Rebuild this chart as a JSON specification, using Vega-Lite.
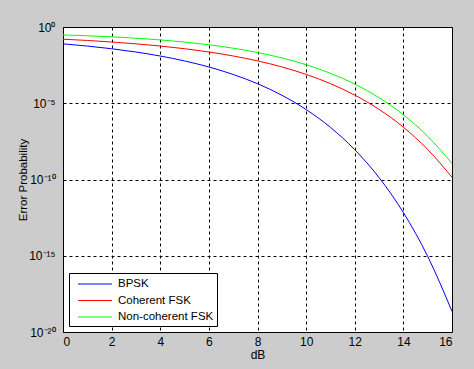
{
  "$schema": "https://vega.github.io/schema/vega-lite/v6.json",
  "autosize": "none",
  "width": 389,
  "height": 305,
  "padding": {"left": 63, "top": 27, "right": 22, "bottom": 37},
  "background": "#cccccc",
  "config": {
    "view": {"fill": "white", "stroke": "black", "strokeWidth": 1},
    "font": "Liberation Sans"
  },
  "data": {
    "values": [
      {"dB": 0, "s": "BPSK", "p": 0.07865},
      {"dB": 1, "s": "BPSK", "p": 0.05628},
      {"dB": 2, "s": "BPSK", "p": 0.03751},
      {"dB": 3, "s": "BPSK", "p": 0.02288},
      {"dB": 4, "s": "BPSK", "p": 0.0125},
      {"dB": 5, "s": "BPSK", "p": 0.005954},
      {"dB": 6, "s": "BPSK", "p": 0.002388},
      {"dB": 7, "s": "BPSK", "p": 0.0007727},
      {"dB": 8, "s": "BPSK", "p": 0.0001909},
      {"dB": 9, "s": "BPSK", "p": 3.363e-5},
      {"dB": 10, "s": "BPSK", "p": 3.872e-6},
      {"dB": 11, "s": "BPSK", "p": 2.613e-7},
      {"dB": 12, "s": "BPSK", "p": 9.006e-9},
      {"dB": 13, "s": "BPSK", "p": 1.333e-10},
      {"dB": 14, "s": "BPSK", "p": 6.81e-13},
      {"dB": 15, "s": "BPSK", "p": 9.124e-16},
      {"dB": 16, "s": "BPSK", "p": 2.26e-19},
      {"dB": 0, "s": "Coherent FSK", "p": 0.1587},
      {"dB": 1, "s": "Coherent FSK", "p": 0.1309},
      {"dB": 2, "s": "Coherent FSK", "p": 0.104},
      {"dB": 3, "s": "Coherent FSK", "p": 0.0789},
      {"dB": 4, "s": "Coherent FSK", "p": 0.05649},
      {"dB": 5, "s": "Coherent FSK", "p": 0.03768},
      {"dB": 6, "s": "Coherent FSK", "p": 0.023},
      {"dB": 7, "s": "Coherent FSK", "p": 0.01259},
      {"dB": 8, "s": "Coherent FSK", "p": 0.006004},
      {"dB": 9, "s": "Coherent FSK", "p": 0.002413},
      {"dB": 10, "s": "Coherent FSK", "p": 0.0007827},
      {"dB": 11, "s": "Coherent FSK", "p": 0.0001941},
      {"dB": 12, "s": "Coherent FSK", "p": 3.43e-5},
      {"dB": 13, "s": "Coherent FSK", "p": 3.97e-6},
      {"dB": 14, "s": "Coherent FSK", "p": 2.692e-7},
      {"dB": 15, "s": "Coherent FSK", "p": 9.36e-9},
      {"dB": 16, "s": "Coherent FSK", "p": 1.4e-10},
      {"dB": 0, "s": "Non-coherent FSK", "p": 0.3033},
      {"dB": 1, "s": "Non-coherent FSK", "p": 0.2664},
      {"dB": 2, "s": "Non-coherent FSK", "p": 0.2264},
      {"dB": 3, "s": "Non-coherent FSK", "p": 0.1844},
      {"dB": 4, "s": "Non-coherent FSK", "p": 0.1424},
      {"dB": 5, "s": "Non-coherent FSK", "p": 0.1029},
      {"dB": 6, "s": "Non-coherent FSK", "p": 0.0683},
      {"dB": 7, "s": "Non-coherent FSK", "p": 0.04078},
      {"dB": 8, "s": "Non-coherent FSK", "p": 0.02132},
      {"dB": 9, "s": "Non-coherent FSK", "p": 0.009424},
      {"dB": 10, "s": "Non-coherent FSK", "p": 0.003369},
      {"dB": 11, "s": "Non-coherent FSK", "p": 0.000923},
      {"dB": 12, "s": "Non-coherent FSK", "p": 0.0001809},
      {"dB": 13, "s": "Non-coherent FSK", "p": 2.324e-5},
      {"dB": 14, "s": "Non-coherent FSK", "p": 1.756e-6},
      {"dB": 15, "s": "Non-coherent FSK", "p": 6.79e-8},
      {"dB": 16, "s": "Non-coherent FSK", "p": 1.133e-9}
    ]
  },
  "mark": {"type": "line", "interpolate": "monotone", "strokeWidth": 1, "clip": true},
  "encoding": {
    "x": {
      "field": "dB", "type": "quantitative",
      "scale": {"domain": [0, 16], "nice": false, "zero": false},
      "axis": {
        "title": "dB", "values": [0, 2, 4, 6, 8, 10, 12, 14, 16],
        "grid": true, "gridColor": "black", "gridDash": [3, 3], "gridOpacity": 1, "gridWidth": 1,
        "ticks": false, "domain": false,
        "labelFont": "Liberation Sans", "labelFontSize": 12, "labelColor": "black", "labelPadding": 4,
        "titleFont": "Liberation Sans", "titleFontSize": 12, "titleFontWeight": "normal", "titleColor": "black", "titlePadding": 2
      }
    },
    "y": {
      "field": "p", "type": "quantitative",
      "scale": {"type": "log", "domain": [1e-20, 1], "nice": false},
      "axis": {
        "title": "Error Probability", "values": [1, 1e-5, 1e-10, 1e-15, 1e-20],
        "labelExpr": "datum.value >= 0.5 ? '10⁰' : datum.value >= 1e-6 ? '10⁻⁵' : datum.value >= 1e-11 ? '10⁻¹⁰' : datum.value >= 1e-16 ? '10⁻¹⁵' : '10⁻²⁰'",
        "grid": true, "gridColor": "black", "gridDash": [3, 3], "gridOpacity": 1, "gridWidth": 1,
        "ticks": false, "domain": false,
        "labelFont": "Liberation Sans", "labelFontSize": 12, "labelColor": "black", "labelPadding": 8,
        "titleFont": "Liberation Sans", "titleFontSize": 11.5, "titleFontWeight": "normal", "titleColor": "black", "titleX": -35
      }
    },
    "color": {
      "field": "s", "type": "nominal",
      "scale": {"domain": ["BPSK", "Coherent FSK", "Non-coherent FSK"], "range": ["#0000ff", "#ff0000", "#00ff00"]},
      "legend": {
        "title": null, "orient": "none", "legendX": 6, "legendY": 246,
        "symbolType": "M-0.2857,0H4.5714", "symbolSize": 196, "symbolStrokeWidth": 1.2,
        "labelFont": "Liberation Sans", "labelFontSize": 11.5, "labelColor": "black", "labelOffset": 30,
        "fillColor": "white", "strokeColor": "black", "padding": 3, "rowPadding": 2.5,
        "cornerRadius": 0
      }
    }
  }
}
